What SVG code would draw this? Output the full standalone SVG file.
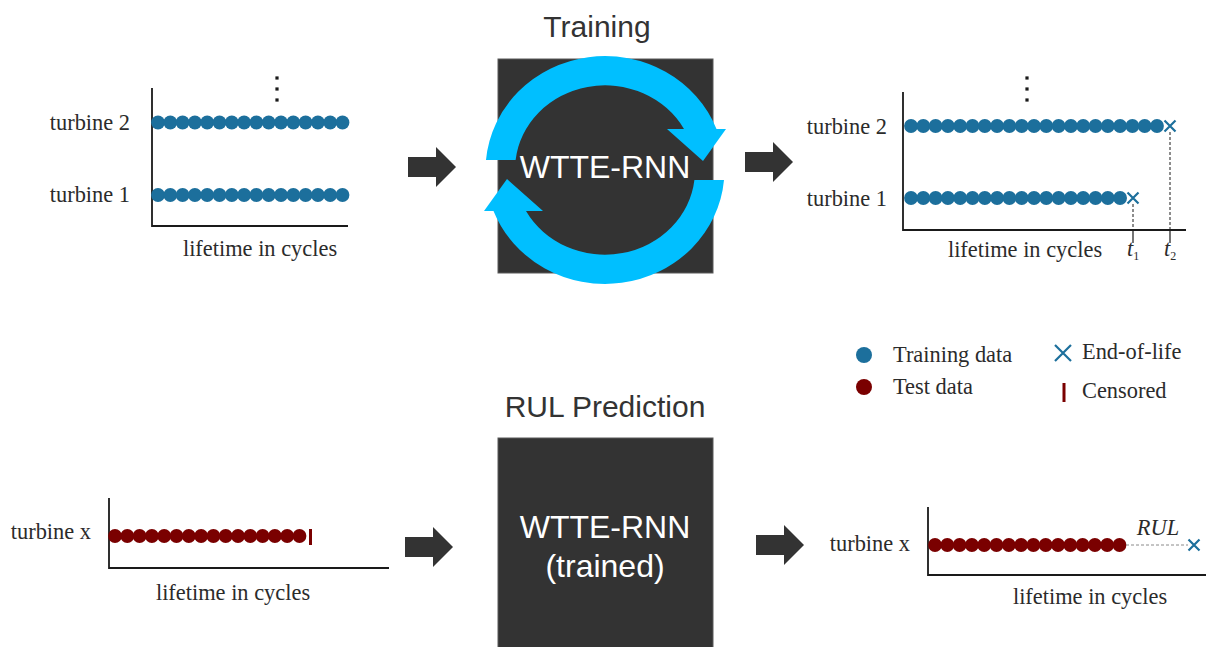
<svg xmlns="http://www.w3.org/2000/svg" xmlns:xlink="http://www.w3.org/1999/xlink" width="1206" height="647" viewBox="0 0 1206 647">
<style>
.serif{font-family:"Liberation Serif","Times New Roman",serif;font-size:22.4px;fill:#2b2b2b}
.sans{font-family:"Liberation Sans",Arial,sans-serif}
.title{font-size:30px;fill:#333;text-anchor:middle}
.boxtxt{font-size:32px;fill:#fff;text-anchor:middle}
.axis{stroke:#1a1a1a;stroke-width:1.8;fill:none}
.dash{stroke:#1a1a1a;stroke-width:1;stroke-dasharray:3,2;fill:none}
.tick{stroke:#1a1a1a;stroke-width:1.2;fill:none}
.blue{fill:#1c6f9c}
.red{fill:#7a0000}
.xm{stroke:#1c6f9c;stroke-width:2.2;fill:none}
.blk{fill:#333}
.box{fill:#333;stroke:#5a5a5a;stroke-width:1}
.cyc{fill:#00BFFF}
.mid{text-anchor:middle}
.end{text-anchor:end}
</style>
<defs>
<g id="row16">
<circle cx="0" cy="0" r="6.9"/><circle cx="12.3" cy="0" r="6.9"/><circle cx="24.6" cy="0" r="6.9"/><circle cx="36.9" cy="0" r="6.9"/><circle cx="49.2" cy="0" r="6.9"/><circle cx="61.5" cy="0" r="6.9"/><circle cx="73.8" cy="0" r="6.9"/><circle cx="86.1" cy="0" r="6.9"/><circle cx="98.4" cy="0" r="6.9"/><circle cx="110.7" cy="0" r="6.9"/><circle cx="123" cy="0" r="6.9"/><circle cx="135.3" cy="0" r="6.9"/><circle cx="147.6" cy="0" r="6.9"/><circle cx="159.9" cy="0" r="6.9"/><circle cx="172.2" cy="0" r="6.9"/><circle cx="184.5" cy="0" r="6.9"/>
</g>
<g id="row18">
<use xlink:href="#row16"/><circle cx="196.8" cy="0" r="6.9"/><circle cx="209.1" cy="0" r="6.9"/>
</g>
<g id="row21">
<use xlink:href="#row18"/><circle cx="221.4" cy="0" r="6.9"/><circle cx="233.7" cy="0" r="6.9"/><circle cx="246" cy="0" r="6.9"/>
</g>
<path id="xmark" d="M-5.5,-5.5 L5.5,5.5 M-5.5,5.5 L5.5,-5.5"/>
<path id="barrow" d="M0,-10 L28,-10 L28,-20 L48,0 L28,20 L28,10 L0,10 Z"/>
<g id="vdots"><rect x="-1.6" y="-1.6" width="3.2" height="3.2"/><rect x="-1.6" y="9.4" width="3.2" height="3.2"/><rect x="-1.6" y="20.4" width="3.2" height="3.2"/></g>
</defs>

<!-- Top-left chart: training input -->
<g id="chart-train-input">
<path class="axis" d="M152,88 L152,226 L348,226"/>
<use xlink:href="#vdots" x="277" y="78" fill="#1a1a1a"/>
<use xlink:href="#row16" x="158" y="122.5" class="blue"/>
<use xlink:href="#row16" x="158" y="195" class="blue"/>
<text class="serif end" x="130" y="130">turbine 2</text>
<text class="serif end" x="130" y="202">turbine 1</text>
<text class="serif mid" x="260" y="256">lifetime in cycles</text>
</g>

<!-- Training model -->
<g id="node-training">
<text class="sans title" x="597" y="37">Training</text>
<rect class="box" x="498" y="59" width="215" height="214"/>
<path class="cyc" d="M486,160 A119.5,114 0 0 1 716.5,129 L726,129 L703,161 L667,129 L684,129 A90,84 0 0 0 515.6,160 Z"/>
<path class="cyc" d="M724,180 A119.5,114 0 0 1 493.5,211 L484,211 L507,179 L543,211 L526,211 A90,84 0 0 0 694.4,180 Z"/>
<text class="sans boxtxt" x="605" y="178">WTTE-RNN</text>
</g>

<!-- Top-right chart: training output -->
<g id="chart-train-output">
<path class="axis" d="M903,92 L903,230 L1186,230"/>
<use xlink:href="#vdots" x="1027" y="78" fill="#1a1a1a"/>
<use xlink:href="#row21" x="911" y="126" class="blue"/>
<use xlink:href="#row18" x="911" y="198" class="blue"/>
<use xlink:href="#xmark" x="1170" y="126" class="xm"/>
<use xlink:href="#xmark" x="1133" y="198" class="xm"/>
<path class="dash" d="M1170,132 L1170,230 M1133,204 L1133,230"/>
<path class="tick" d="M1170,230 L1170,243 M1133,230 L1133,243"/>
<text class="serif end" x="887" y="134">turbine 2</text>
<text class="serif end" x="887" y="206">turbine 1</text>
<text class="serif mid" x="1025" y="257">lifetime in cycles</text>
<text class="serif" x="1127" y="256" font-style="italic" font-size="19">t<tspan font-size="12" font-style="normal" dy="4">1</tspan></text>
<text class="serif" x="1164" y="256" font-style="italic" font-size="19">t<tspan font-size="12" font-style="normal" dy="4">2</tspan></text>
</g>

<!-- Legend -->
<g id="legend">
<circle cx="864" cy="355" r="8" class="blue"/>
<text class="serif" x="893" y="362">Training data</text>
<circle cx="864" cy="387" r="8" class="red"/>
<text class="serif" x="893" y="394">Test data</text>
<path d="M1055,345 L1071,361 M1055,361 L1071,345" stroke="#1c6f9c" stroke-width="2.2" fill="none"/>
<text class="serif" x="1082" y="359">End-of-life</text>
<rect x="1062.5" y="383" width="3" height="19" class="red"/>
<text class="serif" x="1082" y="398">Censored</text>
</g>

<!-- Bottom-left chart: test input -->
<g id="chart-test-input">
<path class="axis" d="M109,498 L109,568 L389,568"/>
<use xlink:href="#row16" x="115" y="536" class="red"/>
<rect x="309" y="529" width="3" height="16" class="red"/>
<text class="serif end" x="91" y="539">turbine x</text>
<text class="serif mid" x="233" y="600">lifetime in cycles</text>
</g>

<!-- RUL prediction model -->
<g id="node-rul">
<text class="sans title" x="605" y="417">RUL Prediction</text>
<rect class="box" x="498" y="438" width="215" height="215"/>
<text class="sans boxtxt" x="605" y="538">WTTE-RNN</text>
<text class="sans boxtxt" x="605" y="577">(trained)</text>
</g>

<!-- Bottom-right chart: prediction output -->
<g id="chart-test-output">
<path class="axis" d="M928,507 L928,575 L1206,575"/>
<use xlink:href="#row16" x="935" y="545" class="red"/>
<path d="M1126,545 L1188,545" stroke="#8a8a8a" stroke-width="1" stroke-dasharray="3,2" fill="none"/>
<use xlink:href="#xmark" x="1194" y="545" class="xm"/>
<text class="serif mid" x="1158" y="535" font-style="italic" font-size="17">RUL</text>
<text class="serif end" x="910" y="551">turbine x</text>
<text class="serif mid" x="1090" y="604">lifetime in cycles</text>
</g>

<!-- Connectors -->
<g id="connectors">
<use xlink:href="#barrow" x="408" y="167" class="blk"/>
<use xlink:href="#barrow" x="745" y="162" class="blk"/>
<use xlink:href="#barrow" x="405" y="547" class="blk"/>
<use xlink:href="#barrow" x="756" y="545" class="blk"/>
</g>
</svg>
